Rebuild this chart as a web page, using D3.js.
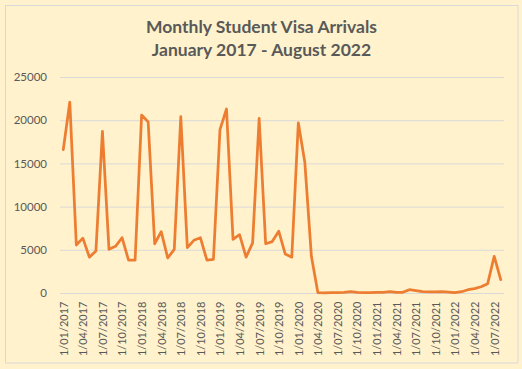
<!DOCTYPE html>
<html>
<head>
<meta charset="utf-8">
<script src="https://cdn.jsdelivr.net/npm/d3@7"></script>
<style>
  html, body { margin: 0; padding: 0; background: #fff2cc; }
  svg { display: block; }
</style>
</head>
<body>
<svg id="chart" width="522" height="369"></svg>
<script>
const titleLines = ["Monthly Student Visa Arrivals", "January 2017 - August 2022"];

const months = [
  "1/01/2017","1/02/2017","1/03/2017","1/04/2017","1/05/2017","1/06/2017","1/07/2017","1/08/2017","1/09/2017","1/10/2017","1/11/2017","1/12/2017",
  "1/01/2018","1/02/2018","1/03/2018","1/04/2018","1/05/2018","1/06/2018","1/07/2018","1/08/2018","1/09/2018","1/10/2018","1/11/2018","1/12/2018",
  "1/01/2019","1/02/2019","1/03/2019","1/04/2019","1/05/2019","1/06/2019","1/07/2019","1/08/2019","1/09/2019","1/10/2019","1/11/2019","1/12/2019",
  "1/01/2020","1/02/2020","1/03/2020","1/04/2020","1/05/2020","1/06/2020","1/07/2020","1/08/2020","1/09/2020","1/10/2020","1/11/2020","1/12/2020",
  "1/01/2021","1/02/2021","1/03/2021","1/04/2021","1/05/2021","1/06/2021","1/07/2021","1/08/2021","1/09/2021","1/10/2021","1/11/2021","1/12/2021",
  "1/01/2022","1/02/2022","1/03/2022","1/04/2022","1/05/2022","1/06/2022","1/07/2022","1/08/2022"
];

const arrivals = [
  16600, 22100, 5550, 6350, 4150, 4850, 18700, 5050, 5400, 6400, 3800, 3800,
  20600, 19800, 5700, 7100, 4050, 5050, 20400, 5250, 6100, 6400, 3800, 3900,
  18900, 21300, 6200, 6750, 4150, 5800, 20200, 5700, 5950, 7150, 4500, 4150,
  19700, 15100, 4250, 30, 20, 30, 40, 60, 150, 60, 40, 50,
  60, 70, 150, 60, 80, 380, 270, 150, 130, 140, 160, 100,
  40, 150, 380, 500, 730, 1080, 4250, 1550
];

const yTicks = [0, 5000, 10000, 15000, 20000, 25000];
const xTickLabels = months.filter((m, i) => i % 3 === 0);

const svg = d3.select("#chart");
const textColor = "#595959";
const fontFam = "Lato, 'Open Sans', sans-serif";

// chart area border
svg.append("rect")
  .attr("x", 5.5).attr("y", 5.5)
  .attr("width", 512.5).attr("height", 357.5)
  .attr("fill", "#fff2cc")
  .attr("stroke", "#d9d9d9").attr("stroke-width", 1);

// title
const title = svg.append("text")
  .attr("text-anchor", "middle")
  .attr("font-family", fontFam)
  .attr("font-weight", "bold")
  .attr("font-size", 17.5)
  .attr("fill", textColor);
titleLines.forEach((t, i) => {
  title.append("tspan").attr("x", 261.5).attr("y", 33 + i * 22.5).text(t);
});

const x = d3.scalePoint()
  .domain(months)
  .range([60, 504])
  .padding(0.5);

const y = d3.scaleLinear()
  .domain([0, 25000])
  .range([293, 77]);

// gridlines / y axis
const yAxis = d3.axisLeft(y)
  .tickValues(yTicks)
  .tickSize(-(504 - 60))
  .tickPadding(13)
  .tickFormat(d3.format("d"));

const gy = svg.append("g")
  .attr("transform", "translate(60,0)")
  .call(yAxis);
gy.select(".domain").remove();
gy.selectAll(".tick line").attr("stroke", "#d9d9d9").attr("stroke-width", 1);
gy.selectAll(".tick text")
  .attr("font-family", fontFam)
  .attr("font-size", 11.5)
  .attr("fill", textColor);

// x axis labels
const xAxis = d3.axisBottom(x)
  .tickValues(xTickLabels)
  .tickSize(0)
  .tickPadding(0);
const gx = svg.append("g")
  .attr("transform", "translate(0,293)")
  .call(xAxis);
gx.select(".domain").remove();
gx.selectAll(".tick text")
  .attr("font-family", fontFam)
  .attr("font-size", 11)
  .attr("fill", textColor)
  .attr("text-anchor", "end")
  .attr("transform", "rotate(-90)")
  .attr("x", -8.5)
  .attr("y", 0)
  .attr("dy", "0.35em");

// line
const line = d3.line()
  .x((d, i) => x(months[i]))
  .y(d => y(d));

svg.append("path")
  .datum(arrivals)
  .attr("d", line)
  .attr("fill", "none")
  .attr("stroke", "#ed7d31")
  .attr("stroke-width", 2.75)
  .attr("stroke-linejoin", "round")
  .attr("stroke-linecap", "round");
</script>
</body>
</html>
